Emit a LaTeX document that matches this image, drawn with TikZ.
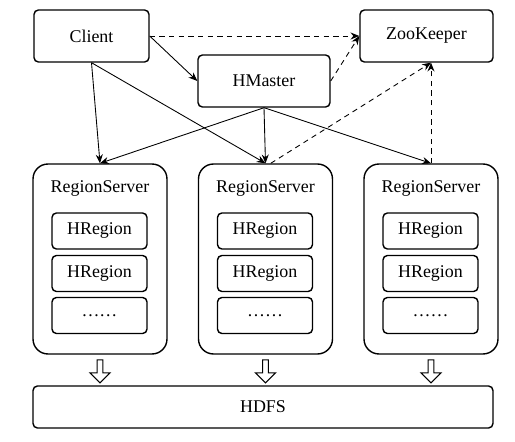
\documentclass[tikz,border=0pt]{standalone}
\usepackage{fontspec}
\setmainfont{Liberation Serif}
\usetikzlibrary{arrows.meta,shapes.arrows}

\tikzset{
  box/.style={draw, line width=0.8pt, rounded corners=2.5pt, font=\fontsize{10.2pt}{12pt}\selectfont},
  server/.style={draw, line width=0.8pt, rounded corners=8.5pt, minimum width=2.68cm, minimum height=3.8cm},
  region/.style={box, minimum width=1.9cm, minimum height=0.72cm},
  conn/.style={line width=0.5pt, -{Stealth[length=5pt,width=4pt]}},
  zkconn/.style={conn, dashed, dash pattern=on 3pt off 2.5pt},
  down/.style={draw, line width=0.6pt, single arrow, shape border rotate=270, minimum height=0.46cm,
    single arrow head extend=0.1cm, single arrow tip angle=90, minimum width=0.4cm, inner sep=0.8pt}
}

\begin{document}
\begin{tikzpicture}[x=0.02cm, y=-0.02cm]
    \useasboundingbox (0,0) rectangle (515,442);

    % top row
    \node[box, minimum width=2.3cm, minimum height=1.04cm] (client) at (91.5,36) {Client};
    \node[box, minimum width=2.66cm, minimum height=1.04cm] (zk) at (426.5,36) {ZooKeeper};
    \node[box, minimum width=2.64cm, minimum height=1.04cm] (hmaster) at (264,81) {HMaster};

    % region servers
    \foreach \n/\x in {1/100,2/265.5,3/431} {
      \node[server] (rs\n) at (\x,259) {};
      \node[font=\fontsize{10.2pt}{12pt}\selectfont] (rs\n label) at (\x,189) {RegionServer};
      \node[region] (hr\n a) at (\x-0.5,231) {HRegion};
      \node[region] (hr\n b) at (\x-0.5,273.5) {HRegion};
      \node[region] (hr\n c) at (\x-0.5,315.5) {……};
      \node[down] (put\n) at (\x,370) {};
    }

    % storage
    \node[box, minimum width=9.2cm, minimum height=0.84cm] (hdfs) at (263,407) {HDFS};

    % draw connections
    \draw[zkconn] (client.east) -- (zk.west);
    \draw[conn] (client.east) -- (hmaster.west);
    \draw[zkconn] (hmaster.east) -- (zk.west);
    \draw[conn] (client.south) -- (rs1.north);
    \draw[conn] (client.south) -- (rs2.north);
    \foreach \n in {1,2,3}
      \draw[conn] (hmaster.south) -- (rs\n.north);
    \draw[zkconn] ([xshift=3pt]rs2.north) -- (rs3.north |- zk.south);
    \draw[zkconn] (rs3.north) -- (rs3.north |- zk.south);
\end{tikzpicture}
\end{document}
